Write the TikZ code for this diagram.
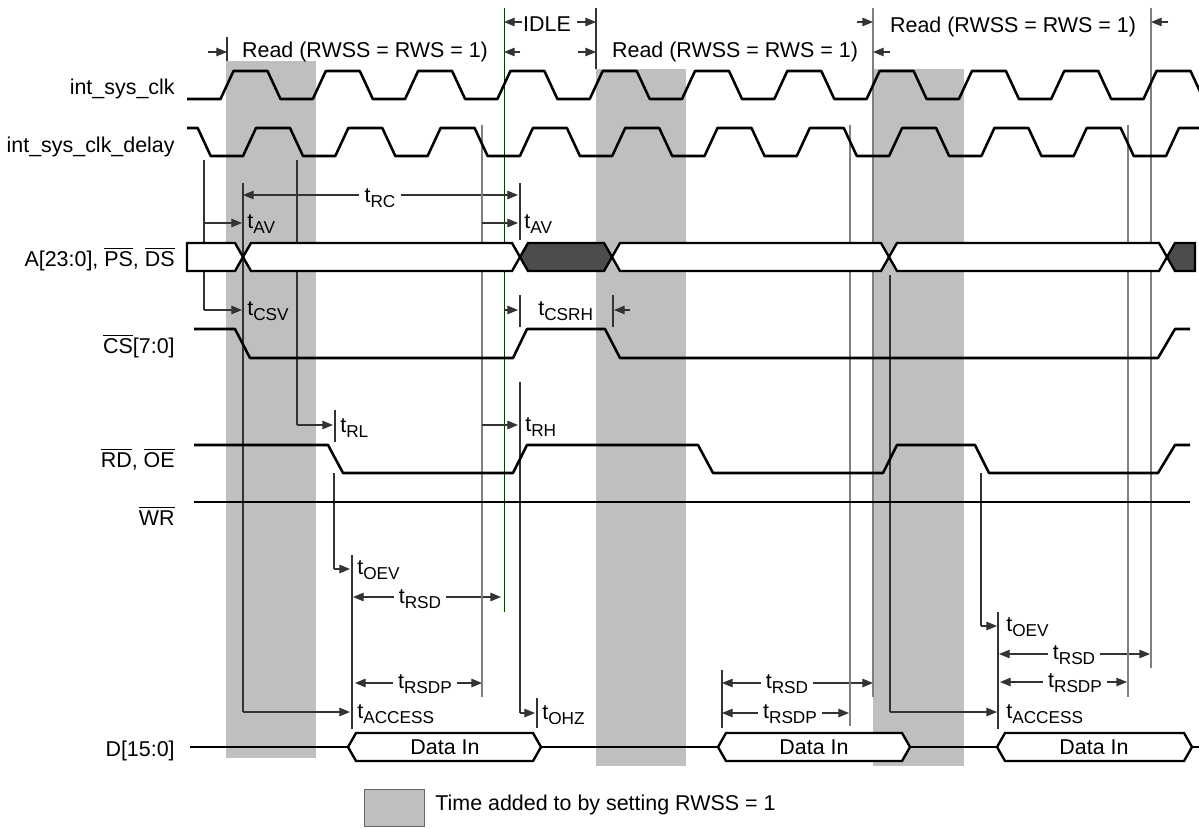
\documentclass[tikz,border=0pt]{standalone}
\usepackage{fontspec}
\setmainfont{Liberation Sans}
\usetikzlibrary{arrows.meta}

\newcommand{\tsub}[1]{t\raisebox{-3.2pt}{\fontsize{9.8}{10}\selectfont #1}}
\newcommand{\ovl}[1]{$\overline{\mbox{#1}}$}

\begin{document}
\begin{tikzpicture}[
    x=0.02cm, y=-0.02cm,
    every node/.style={font=\fontsize{12.2}{14}\selectfont},
    sig/.style={
        line width=1.45pt,
        line join=round
    },
    bus/.style={
        line width=1.35pt,
        fill=white
    },
    busx/.style={
        bus,
        fill=black!70
    },
    band/.style={
        fill=black!25,
        draw=none
    },
    ref/.style={
        line width=0.6pt,
        black!80
    },
    refg/.style={
        line width=0.6pt,
        black!50
    },
    arr/.style={
        ref,
        -{Triangle[length=6pt,width=4.8pt]}
    },
    darr/.style={
        ref,
        {Triangle[length=6pt,width=4.8pt]}-{Triangle[length=6pt,width=4.8pt]}
    },
    lbl/.style={
        anchor=base west,
        inner sep=0pt
    },
    mid/.style={
        anchor=base,
        fill=white,
        inner xsep=3pt,
        inner ysep=1pt
    },
    signame/.style={
        anchor=base east,
        inner sep=0pt
    }
]

\useasboundingbox (0,0) rectangle (1199,828);

% ------------------------------------------------
% Shaded wait-state bands
% ------------------------------------------------

\fill[band] (226,61) rectangle (316,758);
\fill[band] (596,69) rectangle (686,766);
\fill[band] (873,69) rectangle (964,766);

% ------------------------------------------------
% Cycle markers
% ------------------------------------------------

\draw[ref] (227,37) -- (227,61);
\draw[line width=0.5pt, green!25!black] (504,8) -- (504,612);
\draw[ref] (596,8) -- (596,69);
\draw[refg] (873,8) -- (873,697);
\draw[refg] (1151,8) -- (1151,668);

\draw[arr] (522,22) -- (504,22);
\draw[arr] (577,22) -- (596,22);
\draw[arr] (857,22) -- (873,22);
\draw[arr] (1168,22) -- (1151,22);

\draw[arr] (208,52) -- (227,52);
\draw[arr] (520,52) -- (504,52);
\draw[arr] (578,52) -- (596,52);
\draw[arr] (890,52) -- (873,52);

\node[anchor=base, inner sep=0pt] (idle) at (547,32) {IDLE};
\node[anchor=base, inner sep=0pt] (readA) at (365,58) {Read (RWSS = RWS = 1)};
\node[anchor=base, inner sep=0pt] (readB) at (735,58) {Read (RWSS = RWS = 1)};
\node[anchor=base, inner sep=0pt] (readC) at (1013,33) {Read (RWSS = RWS = 1)};

% ------------------------------------------------
% Timing references: first read
% ------------------------------------------------

\draw[ref] (204,160) -- (204,310);
\draw[arr] (204,223) -- (242,223);
\draw[arr] (204,310) -- (242,310);
\draw[ref] (243,183) -- (243,712);
\draw[arr] (243,712) -- (350,712);
\draw[darr] (243,195) -- (518,195);

\draw[ref] (297,160) -- (297,425);
\draw[arr] (297,425) -- (333,425);
\draw[ref] (335,410) -- (335,442);

\draw[ref] (334,473) -- (334,569);
\draw[arr] (334,569) -- (350,569);
\draw[ref] (352,555) -- (352,729);
\draw[darr] (353,597) -- (501,597);
\draw[darr] (355,683) -- (482,683);

\draw[refg] (482,125) -- (482,697);
\draw[arr] (482,223) -- (518,223);
\draw[arr] (482,425) -- (518,425);
\draw[arr] (504,310) -- (518,310);

\draw[ref] (520,183) -- (520,240);
\draw[ref] (520,295) -- (520,327);
\draw[ref] (520,382) -- (520,713);
\draw[arr] (520,713) -- (535,713);
\draw[ref] (537,698) -- (537,728);
\draw[ref] (613,295) -- (613,327);
\draw[arr] (630,310) -- (614,310);

% ------------------------------------------------
% Timing references: second and third read
% ------------------------------------------------

\draw[ref] (722,670) -- (722,728);
\draw[darr] (722,683) -- (873,683);
\draw[darr] (722,713) -- (849,713);
\draw[refg] (850,125) -- (850,726);

\draw[ref] (890,275) -- (890,712);
\draw[arr] (890,712) -- (997,712);
\draw[ref] (981,473) -- (981,626);
\draw[arr] (981,626) -- (997,626);
\draw[ref] (998,612) -- (998,729);
\draw[darr] (999,654) -- (1150,654);
\draw[darr] (1000,682) -- (1127,682);
\draw[refg] (1128,125) -- (1128,697);

% ------------------------------------------------
% Clocks
% ------------------------------------------------

\draw[sig] (187,99) foreach \k in {0,...,10} {
    -- ({220.5+92.3*\k},99) -- ({233.5+92.3*\k},71)
    -- ({267.5+92.3*\k},71) -- ({280.5+92.3*\k},99)
};

\draw[sig] (187,128) -- (197.7,128) -- (210.7,156) foreach \k in {0,...,10} {
    -- ({243+92.3*\k},156) -- ({256+92.3*\k},128)
    -- ({290+92.3*\k},128) -- ({303+92.3*\k},156)
};

% ------------------------------------------------
% Address bus
% ------------------------------------------------

\draw[bus] (187,243) -- (235,243) -- (243,257) -- (235,271) -- (187,271) -- cycle;
\draw[bus] (243,257) -- (251,243) -- (512,243) -- (520,257) -- (512,271) -- (251,271) -- cycle;
\draw[busx] (520,257) -- (528,243) -- (604,243) -- (612,257) -- (604,271) -- (528,271) -- cycle;
\draw[bus] (612,257) -- (620,243) -- (881,243) -- (889,257) -- (881,271) -- (620,271) -- cycle;
\draw[bus] (889,257) -- (897,243) -- (1159,243) -- (1167,257) -- (1159,271) -- (897,271) -- cycle;
\draw[busx] (1167,257) -- (1175,243) -- (1195,243) -- (1195,271) -- (1175,271) -- cycle;

% ------------------------------------------------
% Strobes
% ------------------------------------------------

\draw[sig] (194,329) -- (235,329) -- (250,358) -- (513,358) -- (527,329) -- (605,329)
    -- (620,358) -- (1158,358) -- (1175,329) -- (1190,329);

\draw[sig] (194,445) -- (328,445) -- (343,473) -- (513,473) -- (527,445) -- (698,445)
    -- (713,473) -- (883,473) -- (897,445) -- (975,445) -- (989,473) -- (1158,473)
    -- (1175,445) -- (1190,445);

\draw[sig] (194,502) -- (1190,502);

% ------------------------------------------------
% Data bus
% ------------------------------------------------

\draw[sig] (190,747) -- (348,747);
\draw[bus] (348,747) -- (356,733) -- (533,733) -- (541,747) -- (533,761) -- (356,761) -- cycle;
\draw[sig] (541,747) -- (718,747);
\draw[bus] (718,747) -- (726,733) -- (902,733) -- (910,747) -- (902,761) -- (726,761) -- cycle;
\draw[sig] (910,747) -- (997,747);
\draw[bus] (997,747) -- (1005,733) -- (1184,733) -- (1192,747) -- (1184,761) -- (1005,761) -- cycle;
\draw[sig] (1192,747) -- (1199,747);

\node (dinA) at (445,747) {Data In};
\node (dinB) at (814,747) {Data In};
\node (dinC) at (1094,747) {Data In};

% ------------------------------------------------
% Signal names
% ------------------------------------------------

\node[signame] (nclk) at (175,94) {int\_sys\_clk};
\node[signame] (nclkd) at (175,152) {int\_sys\_clk\_delay};
\node[signame] (naddr) at (175,266) {A[23:0], \ovl{PS}, \ovl{DS}};
\node[signame] (ncs) at (175,353) {\ovl{CS}[7:0]};
\node[signame] (nrd) at (175,467) {\ovl{RD}, \ovl{OE}};
\node[signame] (nwr) at (175,525) {\ovl{WR}};
\node[signame] (ndata) at (175,756) {D[15:0]};

% ------------------------------------------------
% Timing labels
% ------------------------------------------------

\node[mid] (trc) at (380,202) {\tsub{RC}};
\node[lbl] (tavA) at (247,228) {\tsub{AV}};
\node[lbl] (tcsv) at (247,315) {\tsub{CSV}};
\node[lbl] (trl) at (340,432) {\tsub{RL}};
\node[lbl] (toevA) at (357,574) {\tsub{OEV}};
\node[mid] (trsdA) at (420,603) {\tsub{RSD}};
\node[mid] (trsdpA) at (425,688) {\tsub{RSDP}};
\node[lbl] (taccA) at (357,718) {\tsub{ACCESS}};

\node[lbl] (tavB) at (524,228) {\tsub{AV}};
\node[lbl] (tcsrh) at (538,315) {\tsub{CSRH}};
\node[lbl] (trh) at (525,431) {\tsub{RH}};
\node[lbl] (tohz) at (542,719) {\tsub{OHZ}};

\node[mid] (trsdB) at (787,688) {\tsub{RSD}};
\node[mid] (trsdpB) at (790,718) {\tsub{RSDP}};

\node[lbl] (toevC) at (1006,631) {\tsub{OEV}};
\node[mid] (trsdC) at (1074,659) {\tsub{RSD}};
\node[mid] (trsdpC) at (1075,687) {\tsub{RSDP}};
\node[lbl] (taccC) at (1006,718) {\tsub{ACCESS}};

% ------------------------------------------------
% Legend
% ------------------------------------------------

\node[draw=black!60, fill=black!25, minimum width=1.2cm, minimum height=0.74cm,
    inner sep=0pt] (legbox) at (394,807.5) {};
\node[lbl] (legtext) at (435,810) {Time added to by setting RWSS = 1};

\end{tikzpicture}
\end{document}
